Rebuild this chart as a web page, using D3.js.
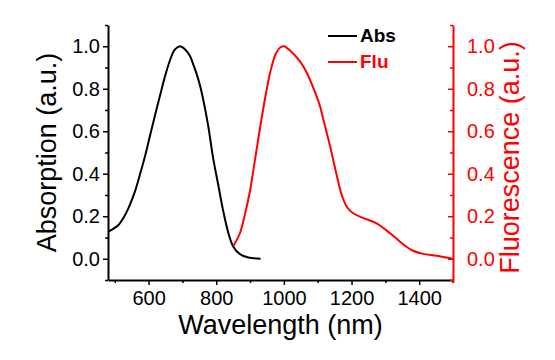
<!DOCTYPE html>
<html>
<head>
<meta charset="utf-8">
<script src="https://cdn.jsdelivr.net/npm/d3@7"></script>
<style>
  body { margin: 0; background: #fff; }
  svg { font-family: "Liberation Sans", Arial, sans-serif; }
</style>
</head>
<body>
<svg id="chart"></svg>
<script>
// absorption spectrum (black, left axis)
const absWavelength = [481, 510, 530, 545, 560, 574, 589, 604, 619, 634, 648, 663, 678, 693, 708, 722, 732, 742, 752, 762, 776, 791, 806, 821, 836, 850, 870, 895, 931];
const absValue = [0.128, 0.158, 0.205, 0.255, 0.318, 0.394, 0.480, 0.578, 0.675, 0.769, 0.855, 0.933, 0.985, 1.0, 0.985, 0.955, 0.915, 0.87, 0.815, 0.745, 0.628, 0.472, 0.347, 0.222, 0.12, 0.058, 0.022, 0.006, 0.0];

// fluorescence spectrum (red, right axis)
const fluWavelength = [850, 870, 885, 900, 915, 930, 945, 960, 975, 990, 1000, 1018, 1047, 1067, 1092, 1106, 1116, 1136, 1156, 1171, 1186, 1205, 1235, 1274, 1314, 1358, 1382, 1412, 1452, 1499];
const fluValue = [0.058, 0.12, 0.21, 0.32, 0.47, 0.62, 0.76, 0.88, 0.96, 0.995, 1.0, 0.98, 0.93, 0.878, 0.784, 0.722, 0.66, 0.534, 0.394, 0.30, 0.245, 0.214, 0.191, 0.167, 0.12, 0.061, 0.0375, 0.023, 0.014, 0.0];

const xTicks = [600, 800, 1000, 1200, 1400];
const yTicks = [0.0, 0.2, 0.4, 0.6, 0.8, 1.0];
const legendItems = ['Abs', 'Flu'];

const width = 555, height = 360;
const margin = { top: 25, right: 102, bottom: 80, left: 108 };

const svg = d3.select('#chart').attr('width', width).attr('height', height);

const x = d3.scaleLinear().domain([480, 1500]).range([margin.left, width - margin.right]);
const yL = d3.scaleLinear().domain([-0.1, 1.1]).range([height - margin.bottom, margin.top]);
const yR = d3.scaleLinear().domain([-0.1, 1.1]).range([height - margin.bottom, margin.top]);

const fmt = d3.format('.1f');
const minorX = d3.range(500, 1501, 100).filter(v => !xTicks.includes(v));
const minorY = d3.range(-1, 12).map(i => i / 10).filter(v => !yTicks.some(t => Math.abs(t - v) < 1e-9));

// bottom axis
const gx = svg.append('g').attr('transform', `translate(0,${height - margin.bottom})`);
gx.call(d3.axisBottom(x).tickValues(xTicks).tickFormat(d3.format('d')).tickSize(5).tickPadding(6).tickSizeOuter(0));
gx.append('g').call(d3.axisBottom(x).tickValues(minorX).tickSize(3).tickFormat('').tickSizeOuter(0))
  .select('.domain').remove();

// left axis
const gy = svg.append('g').attr('transform', `translate(${margin.left},0)`);
gy.call(d3.axisLeft(yL).tickValues(yTicks).tickFormat(fmt).tickSize(5).tickPadding(3).tickSizeOuter(0));
gy.append('g').call(d3.axisLeft(yL).tickValues(minorY).tickSize(3).tickFormat('').tickSizeOuter(0))
  .select('.domain').remove();

// right axis (ticks point inward)
const gr = svg.append('g').attr('transform', `translate(${width - margin.right},0)`);
gr.call(d3.axisRight(yR).tickValues(yTicks).tickFormat(fmt).tickSize(-5).tickPadding(14).tickSizeOuter(0));
gr.append('g').call(d3.axisRight(yR).tickValues(minorY).tickSize(-3).tickFormat('').tickSizeOuter(0))
  .select('.domain').remove();

[gx, gy, gr].forEach(g => {
  g.selectAll('.domain').attr('stroke-width', 2);
  g.selectAll('line').attr('stroke-width', 1.5);
  g.selectAll('text').attr('font-size', 20).attr('font-family', '"Liberation Sans", Arial, sans-serif');
});
gx.selectAll('.domain, line').attr('stroke', '#000');
gy.selectAll('.domain, line').attr('stroke', '#000');
gx.selectAll('text').attr('fill', '#000');
gy.selectAll('text').attr('fill', '#000');
gr.selectAll('.domain, line').attr('stroke', '#ff0000');
gr.selectAll('text').attr('fill', '#ff0000');
// small red stub under the right end of the x axis
gr.append('line').attr('x1', 0).attr('x2', 0)
  .attr('y1', height - margin.bottom).attr('y2', height - margin.bottom + 3)
  .attr('stroke', '#ff0000').attr('stroke-width', 2);

// axis titles
svg.append('text')
  .attr('x', (margin.left + width - margin.right) / 2).attr('y', 334)
  .attr('text-anchor', 'middle').attr('font-size', 27)
  .text('Wavelength (nm)');

svg.append('text')
  .attr('transform', `translate(56,${(margin.top + height - margin.bottom) / 2}) rotate(-90)`)
  .attr('text-anchor', 'middle').attr('font-size', 27)
  .text('Absorption (a.u.)');

svg.append('text')
  .attr('transform', `translate(519,${(margin.top + height - margin.bottom) / 2 + 5}) rotate(-90)`)
  .attr('text-anchor', 'middle').attr('font-size', 27).attr('fill', '#ff0000')
  .text('Fluorescence (a.u.)');

// curves
const lineAbs = d3.line().x((d, i) => x(absWavelength[i])).y(d => yL(d)).curve(d3.curveCatmullRom);
const lineFlu = d3.line().x((d, i) => x(fluWavelength[i])).y(d => yR(d)).curve(d3.curveCatmullRom);

svg.append('path').datum(absValue).attr('d', lineAbs)
  .attr('fill', 'none').attr('stroke', '#000').attr('stroke-width', 2);
svg.append('path').datum(fluValue).attr('d', lineFlu)
  .attr('fill', 'none').attr('stroke', '#ff0000').attr('stroke-width', 2);

// legend
const legendColors = ['#000', '#ff0000'];
const legend = svg.append('g');
legendItems.forEach((name, i) => {
  const ly = 36 + i * 26;
  legend.append('line').attr('x1', 328).attr('x2', 357).attr('y1', ly).attr('y2', ly)
    .attr('stroke', legendColors[i]).attr('stroke-width', 2);
  legend.append('text').attr('x', 360).attr('y', ly + 6)
    .attr('font-size', 19).attr('font-weight', 'bold').attr('fill', legendColors[i])
    .text(name);
});
</script>
</body>
</html>
